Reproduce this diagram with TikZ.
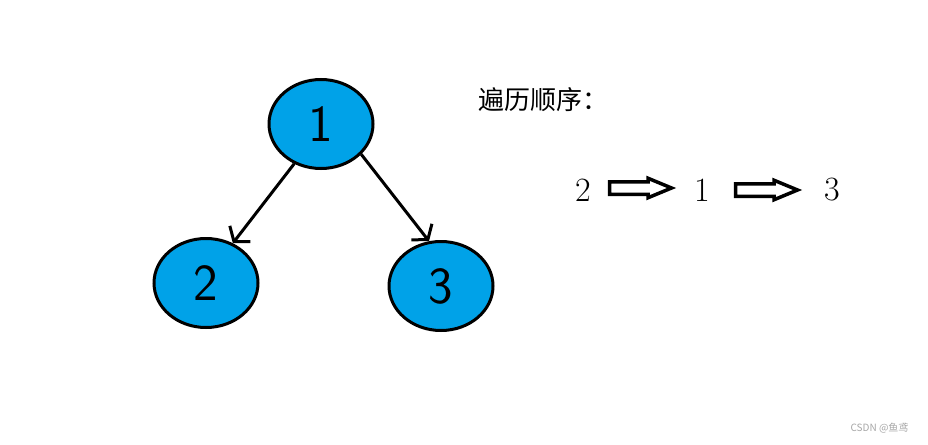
\documentclass[tikz,border=0pt]{standalone}
\usepackage{fontspec}
\newfontfamily\cjk{Noto Sans CJK SC}
\usetikzlibrary{positioning}
\usetikzlibrary{shapes.geometric}
\usetikzlibrary{shapes.arrows}
\usetikzlibrary{arrows.meta}
\definecolor{paintblue}{RGB}{0,162,232}

\begin{document}
\begin{tikzpicture}[x=1pt,y=-1pt,
    vertex/.style={draw,ellipse,fill=paintblue,line width=3pt,minimum width=104pt,minimum height=89pt,inner sep=0pt,font=\sffamily\fontsize{52}{52}\selectfont},
    edge/.style={line width=3pt,-{Straight Barb[length=10pt,width=26pt,line width=3pt]}},
    order/.style={font=\fontsize{34}{34}\selectfont},
    hollow/.style={single arrow,draw,line width=3.5pt,inner xsep=0pt,inner ysep=4.5pt,minimum height=62pt,single arrow head extend=3.5pt,single arrow head indent=0pt,single arrow tip angle=45}]
        \useasboundingbox (0,0) rectangle (928,444);

        % the tree
        \node[vertex] (n1) at (321,124) {1};
        \node[vertex] (n2) at (206,283) {2};
        \node[vertex] (n3) at (441,286) {3};
        \draw[edge] (n1.236) -- (n2.56);
        \draw[edge] (n1.323) -- (n3.105);

        % traversal order
        \node[anchor=west,font=\cjk\fontsize{26}{26}\selectfont] (title) at (475,100) {遍历顺序：};
        \node[order] (o2) at (583,190) {2};
        \node[order] (o1) at (702,190) {1};
        \node[order] (o3) at (832,190) {3};
        \node[hollow] (a1) at (633,188) {};
        \node[hollow] (a2) at (759,190) {};

        \node[anchor=east,text=gray!70,font=\cjk\fontsize{10}{10}\selectfont] (mark) at (912,428) {CSDN @鱼鸢};
\end{tikzpicture}
\end{document}
